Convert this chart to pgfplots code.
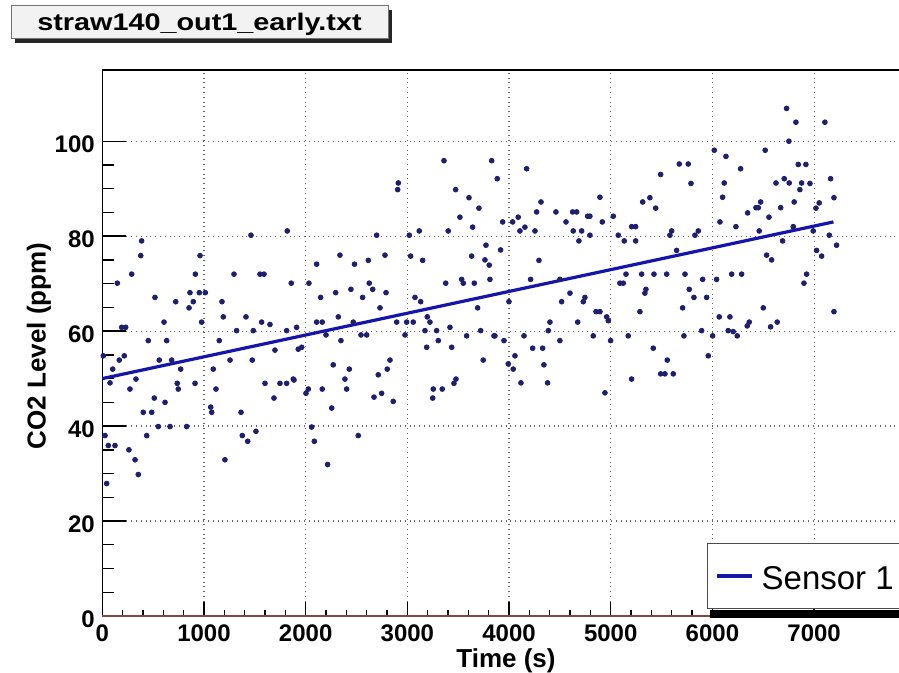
\documentclass[border=0pt]{standalone}
\usepackage{fontspec}
\setmainfont{Liberation Sans}
\usepackage{pgfplots}
\usepackage{pgfplotstable}
\pgfplotsset{compat=1.18}
\definecolor{ptcol}{RGB}{30,30,115}
\definecolor{fitcol}{RGB}{20,20,175}
\definecolor{gridcol}{RGB}{100,100,100}
\definecolor{zerocol}{RGB}{130,70,70}
\pgfplotstableread{
x y
387 79.0
378 75.9
289 72.0
148 70.1
518 67.1
722 66.2
853 64.9
895 66.2
862 68.1
954 68.1
1013 68.1
915 72.0
961 75.9
607 61.9
191 60.8
230 60.8
452 58.0
633 58.0
977 61.9
1177 66.2
1190 63.0
1295 72.0
1462 80.2
1551 72.0
1590 72.0
1858 70.1
1819 81.1
1413 63.0
1567 61.9
1649 61.4
1150 58.0
1321 60.1
1485 60.1
1813 60.1
1911 60.8
3360 95.9
3829 95.9
3884 92.1
2911 91.2
2905 89.8
3475 89.8
3606 88.1
3704 85.9
3517 84.0
3642 81.9
3402 81.1
3117 81.1
3019 80.2
2698 80.2
3773 78.1
3632 75.8
3763 75.0
3805 73.9
2780 76.0
2616 74.9
2337 76.0
2108 74.1
2480 74.1
3032 75.8
3150 74.9
2032 70.1
2295 68.1
2445 68.8
2625 70.1
2659 68.8
2790 68.1
2147 67.1
2560 67.1
2731 64.9
2321 63.0
2108 61.9
2163 61.9
2468 61.9
3075 67.1
3131 66.2
3377 70.1
3534 70.9
3550 70.1
3658 70.1
3812 70.9
3691 64.9
3196 63.0
3222 61.9
2895 61.9
2993 61.9
3058 61.9
3419 60.8
2200 59.2
2544 59.2
2600 59.2
2347 58.0
2977 59.2
3173 60.1
3288 60.1
3304 58.0
3583 59.0
3721 60.1
3852 59.0
1961 56.6
3190 56.6
3436 56.6
4173 94.2
5674 95.2
5762 95.2
5789 91.1
5491 93.0
4894 88.2
4314 87.2
5314 87.2
5385 88.1
5442 85.9
4271 85.1
4461 85.1
4625 85.1
4665 85.1
4773 84.2
4795 84.2
5025 84.2
3937 83.0
4035 83.0
4090 84.0
4560 83.0
4917 83.0
4107 81.1
4156 81.9
4255 81.1
4631 81.1
4714 81.1
4795 80.2
4687 79.0
5206 82.0
5245 82.0
5074 80.2
5133 79.0
5245 79.0
5599 81.1
5582 80.2
5828 80.2
5861 81.1
3917 77.1
4294 74.9
5648 77.0
4212 70.9
4500 70.9
5090 70.1
5123 70.1
5150 72.0
5304 72.0
5425 72.0
5550 72.0
5730 72.0
5772 68.8
5818 67.1
5346 68.8
5336 68.0
4599 68.0
4517 66.2
4746 67.1
4730 66.2
3999 66.2
4855 64.1
4894 64.1
4960 63.0
4976 62.2
4402 61.9
4675 61.9
5287 64.1
5707 64.9
4386 60.1
3861 59.0
3950 58.0
4147 59.0
4232 56.4
4330 56.4
4500 58.0
4828 59.0
4999 58.0
5172 59.0
5418 56.4
5720 59.0
6729 106.9
6821 104.0
7106 104.0
6752 100.0
6018 98.1
6133 96.8
6519 98.1
6277 94.2
6844 95.1
6919 95.1
6116 91.2
6100 88.2
6625 91.2
6706 92.1
6755 91.2
6877 91.2
6959 91.1
6860 89.8
7162 92.1
7195 88.1
6804 87.2
6474 87.2
6428 86.0
6451 86.0
6346 84.9
6671 86.0
6556 84.0
7050 87.0
7018 85.9
6074 83.0
6231 82.0
6460 81.1
6795 82.0
7149 80.2
6991 81.1
6690 79.0
7221 78.1
7024 77.0
7074 75.8
6533 76.0
6582 75.0
6189 72.0
6287 72.0
6041 70.9
5904 70.9
5943 67.1
6926 72.0
6900 70.1
6500 64.9
7195 64.1
6067 63.0
6172 63.0
6362 61.9
6342 61.1
6637 61.9
6572 60.9
5894 60.1
6002 59.0
6155 60.1
6204 59.9
6244 59.0
5959 54.8
4058 54.8
3992 53.1
4041 52.0
4343 52.9
4117 49.1
4379 49.1
4943 47.0
5205 49.9
5556 53.9
5491 51.0
5533 51.0
5615 51.0
1927 56.2
1878 49.9
2829 53.9
2271 52.9
2429 52.0
2802 52.0
2714 50.8
2386 49.9
2403 47.8
2163 47.8
2026 47.8
2003 46.9
2747 46.9
2672 46.1
2861 45.2
2256 43.8
2059 39.8
2085 36.8
2517 38.0
2216 31.9
3746 53.9
3255 47.8
3343 47.8
3249 45.9
3478 49.9
3458 49.0
10 54.8
102 52.0
167 53.9
216 54.8
76 49.1
331 49.9
272 47.8
560 53.9
682 53.9
771 52.0
737 49.0
747 47.8
912 49.0
511 45.9
617 45.0
403 42.9
486 42.9
551 39.9
666 39.9
830 39.9
437 38.0
27 38.0
59 35.9
125 35.9
262 35.0
322 32.9
354 29.8
43 27.9
1091 52.0
1118 47.8
1066 44.0
1076 42.9
1256 53.9
1475 53.9
1698 56.0
1600 49.0
1747 49.0
1813 49.0
1885 49.7
1688 45.9
1364 42.9
1377 38.0
1430 36.8
1511 38.9
1206 32.9
}\pointdata
\begin{document}
\begin{tikzpicture}
% title box
\fill[black!85] (7.5pt,315pt) rectangle (196pt,331.5pt);
\filldraw[fill=gray!10, draw=black!55, line width=0.5pt] (5.5pt,317pt) rectangle (194pt,333.5pt);
\node[anchor=base, inner sep=0pt] at (99.75pt,321pt) {\scalebox{1.2}[1]{\bfseries\fontsize{12}{14}\selectfont straw140\_out1\_early.txt}};
\begin{axis}[
  at={(51.15pt,28.5pt)}, anchor=south west,
  scale only axis, width=403.7pt, height=273pt,
  xmin=0, xmax=7940, ymin=0, ymax=115,
  clip=false,
  xtick={0,1000,...,7000}, ytick={0,20,...,100},
  minor x tick num=4, minor y tick num=3,
  tick pos=left, tick align=inside,
  grid=major,
  major grid style={dotted, gridcol, line width=0.6pt},
  axis line style={line width=0.7pt, black},
  x tick style={black, line width=0.7pt, /pgfplots/major tick length=7pt, /pgfplots/minor tick length=3pt},
  y tick style={black, line width=0.7pt, /pgfplots/major tick length=12pt, /pgfplots/minor tick length=6pt},
  /pgf/number format/assume math mode=true,
  /pgf/number format/1000 sep={},
  tick label style={font=\bfseries\fontsize{12}{14}\selectfont},
  xticklabel style={anchor=base, yshift=-13pt},
  yticklabel style={anchor=east, inner sep=0pt, xshift=-3.6pt, yshift=-1.5pt},
  xlabel={Time (s)}, ylabel={CO2 Level (ppm)},
  every axis x label/.style={at={(axis description cs:0.5,0)}, anchor=base, yshift=-26pt, font=\bfseries\fontsize{13}{15}\selectfont},
  every axis y label/.style={at={(axis description cs:-0.0784,0.4945)}, anchor=center, rotate=90, font=\bfseries\fontsize{13}{15}\selectfont},
  legend style={name=leg, at={(axis description cs:0.7489,0.0128)}, anchor=south west, draw=black!70, fill=white, line width=0.5pt, inner xsep=4pt, inner ysep=8pt, column sep=4pt, font=\fontsize{16.5}{18}\selectfont, nodes={inner sep=0pt}},
  legend cell align=left,
  legend image code/.code={\draw[#1, line width=1.6pt] (0pt,0pt) -- (17.5pt,0pt);},
]
\addplot[zerocol, line width=1pt, forget plot] coordinates {(0,0) (7940,0)};
\addplot[only marks, mark=*, mark size=1.2pt, mark options={draw=ptcol, fill=ptcol}, forget plot] table {\pointdata};
\addplot[fitcol, line width=1.6pt] coordinates {(0,50.0) (7190,83.0)};
\addlegendentry{\rule{0pt}{15pt}Sensor 1\hspace{8pt}}
\end{axis}
\fill[black] ([xshift=1.5pt,yshift=-0.25pt]leg.south west) rectangle ([xshift=1.5pt,yshift=-4.5pt]leg.south east);
\pgfresetboundingbox
\useasboundingbox (0,0) rectangle (449.5pt,336.5pt);
\end{tikzpicture}
\end{document}
